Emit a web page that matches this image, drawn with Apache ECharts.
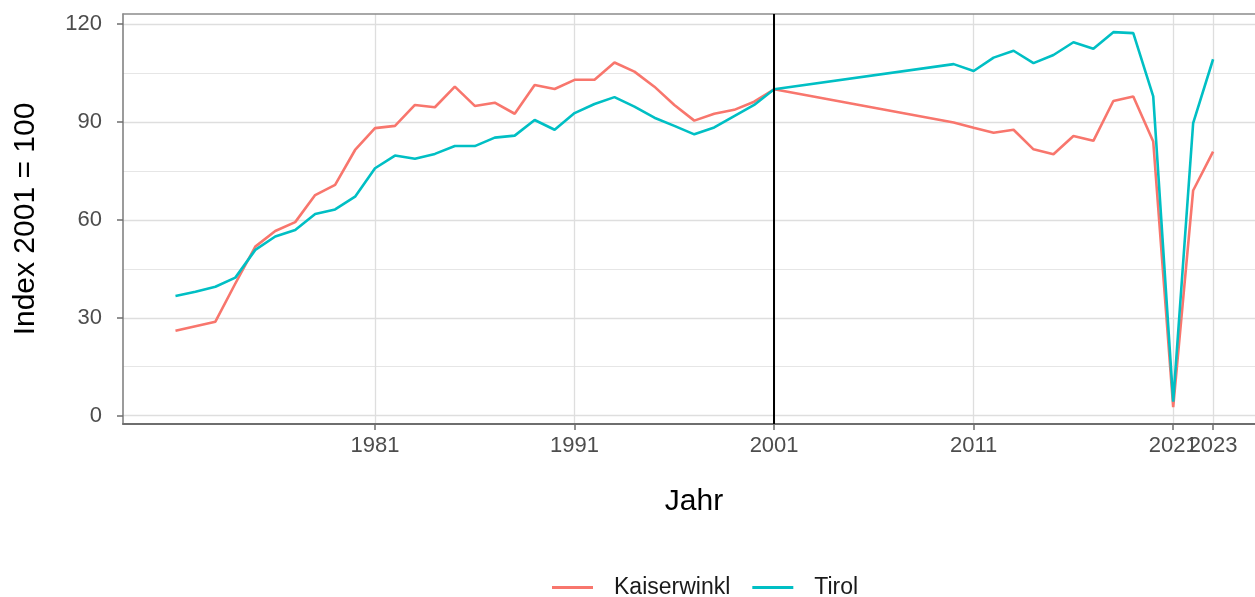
<!DOCTYPE html>
<html>
<head>
<meta charset="utf-8">
<script src="https://cdn.jsdelivr.net/npm/echarts@6/dist/echarts.min.js"></script>
<style>
  html, body { margin: 0; padding: 0; background: #fff; }
  #main { width: 1255px; height: 597px; }
</style>
</head>
<body>
<div id="main"></div>
<script>
// Jahre (zwischen 2001 und 2010 keine Werte)
const years = [
  1971, 1972, 1973, 1974, 1975, 1976, 1977, 1978, 1979, 1980,
  1981, 1982, 1983, 1984, 1985, 1986, 1987, 1988, 1989, 1990,
  1991, 1992, 1993, 1994, 1995, 1996, 1997, 1998, 1999, 2000, 2001,
  2010, 2011, 2012, 2013, 2014, 2015, 2016, 2017, 2018, 2019, 2020, 2021, 2022, 2023
];
const kaiserwinkl = [
  26.0, 27.4, 28.8, 40.5, 51.8, 56.6, 59.3, 67.6, 70.7, 81.4,
  88.1, 88.8, 95.2, 94.5, 100.8, 94.9, 95.9, 92.5, 101.3, 100.1,
  102.9, 102.9, 108.2, 105.4, 100.8, 95.2, 90.4, 92.5, 93.7, 96.2, 100,
  89.8, 88.2, 86.7, 87.6, 81.6, 80.1, 85.7, 84.2, 96.4, 97.8, 84.0, 2.6, 69.0, 80.9
];
const tirol = [
  36.7, 38.0, 39.5, 42.3, 50.8, 54.9, 56.9, 61.8, 63.2, 67.1,
  75.8, 79.7, 78.7, 80.2, 82.6, 82.6, 85.2, 85.8, 90.6, 87.6,
  92.7, 95.5, 97.6, 94.7, 91.3, 88.8, 86.2, 88.3, 91.8, 95.2, 100,
  107.7, 105.6, 109.7, 111.8, 108.0, 110.5, 114.4, 112.4, 117.5, 117.2, 97.8, 4.3, 89.6, 109.2
];
const xTicks = [1981, 1991, 2001, 2011, 2021, 2023];
const xLabelsA = [1981, 1991, 2001, 2011, 2023];
const xLabelsB = [2021]; // überlappt mit 2023, daher eigene Achse
const yTicks = [0, 30, 60, 90, 120];
const yMinor = [15, 45, 75, 105];
const baseYear = 2001;

const pairs = (vals) => years.map((y, i) => [y, vals[i]]);

const chart = echarts.init(document.getElementById("main"));
const gridColor = "#DEDEDE";
const font = "Liberation Sans, Arial, sans-serif";
const xMin = 1968.37, xMax = 2025.1;
const yMin = -2.54, yMax = 123.06;

const tickLabel = {
  hideOverlap: false,
  showMinLabel: true,
  showMaxLabel: true,
  margin: 11,
  fontSize: 22,
  color: "#4D4D4D",
  fontFamily: font,
  formatter: (v) => String(v),
};

const option = {
  animation: false,
  textStyle: { fontFamily: font },
  grid: {
    left: 123,
    top: 14,
    right: 0,
    bottom: 173,
    show: false,
  },
  xAxis: [
    {
      type: "value",
      min: xMin,
      max: xMax,
      position: "bottom",
      axisLine: { show: false },
      axisTick: { show: false, customValues: xLabelsB },
      axisLabel: Object.assign({ customValues: xLabelsB }, tickLabel),
      splitLine: { show: false },
    },
    {
      type: "value",
      min: xMin,
      max: xMax,
      position: "bottom",
      name: "Jahr",
      nameLocation: "middle",
      nameGap: 63,
      nameTextStyle: { fontSize: 30, color: "#000", fontFamily: font, padding: [0, 0, 0, 10] },
      axisLine: { show: true, onZero: false, lineStyle: { color: "#6e6e6e", width: 2 } },
      axisTick: { show: true, length: 6, customValues: xTicks, lineStyle: { color: "#6e6e6e", width: 1.5 } },
      axisLabel: Object.assign({}, tickLabel, { customValues: xLabelsA }),
      splitLine: { show: true, lineStyle: { color: gridColor, width: 1.3 } },
    },
    {
      // obere Rahmenlinie
      type: "value",
      position: "top",
      min: xMin,
      max: xMax,
      axisLine: { show: true, onZero: false, lineStyle: { color: "#8c8c8c", width: 1.5 } },
      axisTick: { show: false },
      axisLabel: { show: false },
      splitLine: { show: false },
    },
  ],
  yAxis: [
    {
      type: "value",
      min: yMin,
      max: yMax,
      name: "Index 2001 = 100",
      nameLocation: "middle",
      nameGap: 82,
      nameTextStyle: { fontSize: 30, color: "#000", fontFamily: font },
      axisLine: { show: true, onZero: false, lineStyle: { color: "#7a7a7a", width: 1.5 } },
      axisTick: { show: true, length: 6, customValues: yTicks, lineStyle: { color: "#6e6e6e", width: 1.5 } },
      axisLabel: {
        customValues: yTicks,
        hideOverlap: false,
        margin: 21,
        fontSize: 22,
        color: "#4D4D4D",
        fontFamily: font,
      },
      splitLine: { show: true, lineStyle: { color: gridColor, width: 1.3 } },
    },
    {
      type: "value",
      min: yMin,
      max: yMax,
      position: "left",
      axisLine: { show: false },
      axisTick: { show: false, customValues: yMinor },
      axisLabel: { show: false, customValues: yMinor },
      splitLine: { show: true, lineStyle: { color: "#E6E6E6", width: 1 } },
    },
  ],
  legend: {
    top: 571,
    left: 547,
    icon: "rect",
    itemWidth: 41,
    itemHeight: 3,
    itemGap: 22,
    textStyle: { fontSize: 23, color: "#1a1a1a", fontFamily: font, padding: [0, 0, 0, 16] },
    data: ["Kaiserwinkl", "Tirol"],
  },
  series: [
    {
      name: "Kaiserwinkl",
      type: "line",
      xAxisIndex: 1,
      data: pairs(kaiserwinkl),
      showSymbol: false,
      symbol: "none",
      lineStyle: { color: "#F8766D", width: 2.6 },
      itemStyle: { color: "#F8766D" },
      z: 3,
    },
    {
      name: "Tirol",
      type: "line",
      xAxisIndex: 1,
      data: pairs(tirol),
      showSymbol: false,
      symbol: "none",
      lineStyle: { color: "#00BFC4", width: 2.6 },
      itemStyle: { color: "#00BFC4" },
      z: 4,
      markLine: {
        silent: true,
        symbol: "none",
        label: { show: false },
        lineStyle: { color: "#000", width: 2, type: "solid" },
        data: [{ xAxis: baseYear }],
        z: 10,
      },
    },
  ],
};
chart.setOption(option);
</script>
</body>
</html>
